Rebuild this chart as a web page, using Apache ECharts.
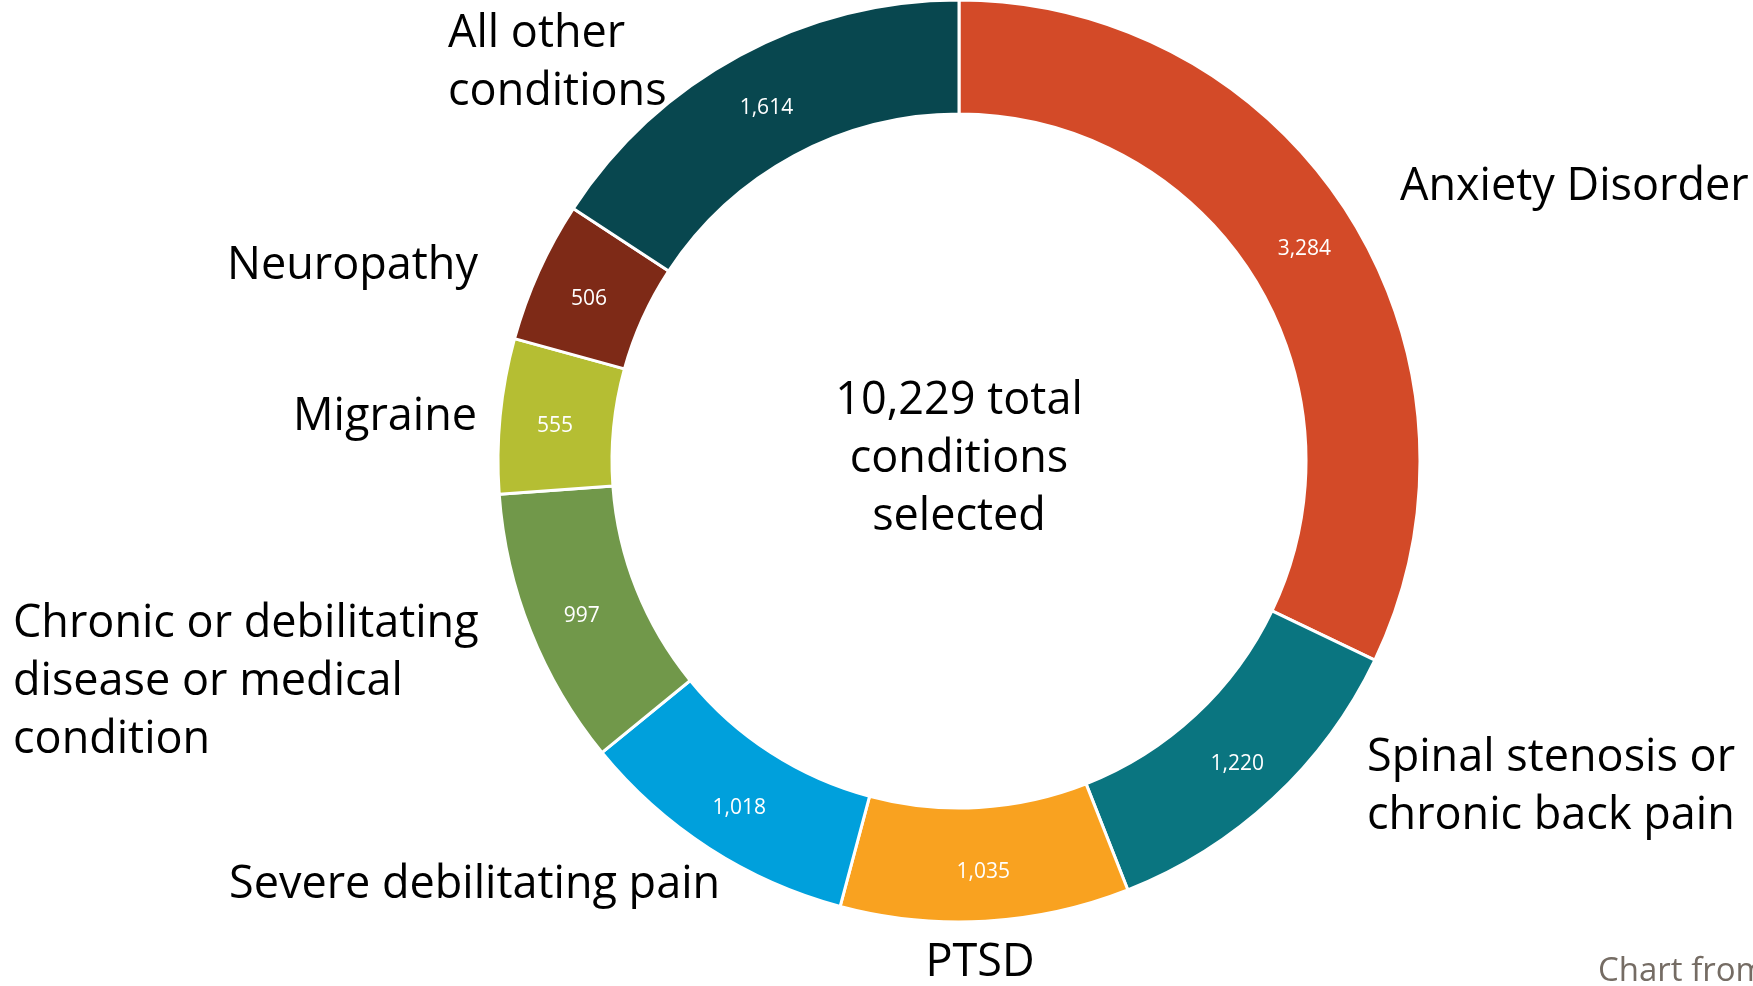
<!DOCTYPE html>
<html>
<head>
<meta charset="utf-8">
<script src="https://cdn.jsdelivr.net/npm/echarts@6/dist/echarts.min.js"></script>
<style>
html,body{margin:0;padding:0;background:#fff;}
#chart{width:1753px;height:986px;}
</style>
</head>
<body>
<div id="chart"></div>
<script>
const categories = ["Anxiety Disorder", "Spinal stenosis or\nchronic back pain", "PTSD", "Severe debilitating pain", "Chronic or debilitating\ndisease or medical\ncondition", "Migraine", "Neuropathy", "All other\nconditions"];
const values = [3284, 1220, 1035, 1018, 997, 555, 506, 1614];
const colors = ["#D34A28", "#0A7580", "#F9A220", "#00A0DC", "#71984A", "#B5BE33", "#7E2A17", "#08474F"];
const centerText = "10,229 total\nconditions\nselected";
const sourceText = "Chart from";

const FONT = "'Open Sans', 'Noto Sans', sans-serif";
// label anchor positions (layout only)
const labelPos = [
  {x:1400, y:187, align:'left'},
  {x:1367, y:787, align:'left'},
  {x:980, y:963, align:'center'},
  {x:229, y:885, align:'left'},
  {x:13, y:682, align:'left'},
  {x:477, y:417, align:'right'},
  {x:478, y:266, align:'right'},
  {x:448, y:63, align:'left'}
];

const data = categories.map((c, i) => ({name: c, value: values[i], itemStyle: {color: colors[i]}}));
const chart = echarts.init(document.getElementById('chart'));
const center = [959, 461];
const radius = [347, 461];
chart.setOption({
  animation: false,
  backgroundColor: '#ffffff',
  graphic: [
    {type:'text', x: 959, y: 459, style: {text: centerText, fill: '#000', font: "45px " + FONT, align: 'center', verticalAlign: 'middle', lineHeight: 58}},
    {type:'text', x: 1598, y: 972, style: {text: sourceText, fill: '#756C64', font: "33px " + FONT, align: 'left', verticalAlign: 'middle'}}
  ],
  series: [
    {
      type: 'pie', center: center, radius: radius, startAngle: 90, clockwise: true,
      data: data, silent: true,
      itemStyle: {borderColor: '#fff', borderWidth: 3},
      label: {show: true, position: 'inside', color: '#fff', fontFamily: FONT, fontSize: 21, offset: [1, 5],
        formatter: p => p.value.toLocaleString('en-US')},
      labelLine: {show: false}
    },
    {
      type: 'pie', center: center, radius: radius, startAngle: 90, clockwise: true,
      data: data.map(d => ({name: d.name, value: d.value})), silent: true,
      itemStyle: {color: 'rgba(0,0,0,0)', borderWidth: 0},
      label: {show: true, position: 'outside', color: '#000', fontFamily: FONT, fontSize: 45, lineHeight: 58,
        overflow: 'none', edgeDistance: 0, formatter: p => p.name},
      labelLine: {show: false},
      labelLayout: function (params) {
        const p = labelPos[params.dataIndex];
        return {x: p.x, y: p.y, align: p.align, verticalAlign: 'middle', hideOverlap: false, moveOverlap: false};
      }
    }
  ]
});
</script>
</body>
</html>
